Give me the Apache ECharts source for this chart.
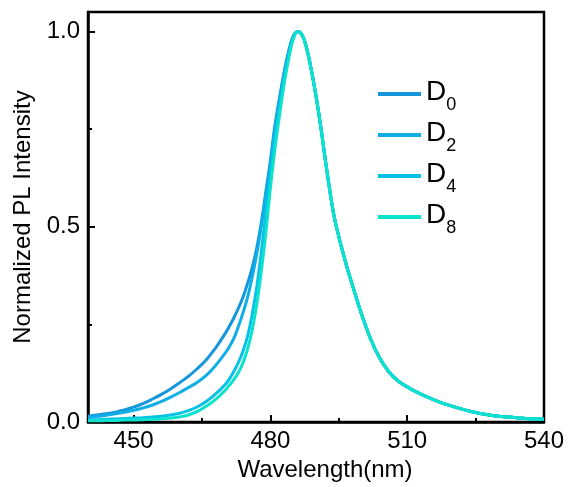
<!DOCTYPE html>
<html><head><meta charset="utf-8">
<script src="https://cdn.jsdelivr.net/npm/echarts@6/dist/echarts.min.js"></script>
<style>html,body{margin:0;padding:0;background:#fff}#c{width:569px;height:487px}</style>
</head><body><div id="c"></div>
<script>
const wavelengths = [440,442,444,446,448,450,452,454,456,458,460,462,464,466,468,470,
  471,472,473,474,475,476,477,478,479,480,481,482,483,484,485,486,
  487,488,489,490,491,492,493,494,495,496,497,498,499,500,
  502,504,506,508,510,512,514,516,518,520,522,524,526,528,530,532,534,536,538,540];
const D0 = [0.015,0.018,0.021,0.025,0.031,0.038,0.047,0.058,0.070,0.084,0.100,0.117,0.137,0.160,0.190,0.225,
  0.245,0.267,0.292,0.320,0.355,0.395,0.445,0.510,0.590,0.670,0.760,0.830,0.895,0.950,0.988,1.000,
  0.990,0.955,0.900,0.835,0.760,0.675,0.595,0.525,0.475,0.430,0.388,0.350,0.312,0.276,
  0.212,0.163,0.128,0.105,0.090,0.077,0.066,0.056,0.047,0.040,0.033,0.027,0.022,0.018,0.015,0.013,0.011,0.009,0.008,0.007];
const D2 = [0.012,0.014,0.017,0.021,0.025,0.030,0.036,0.043,0.052,0.063,0.075,0.088,0.102,0.120,0.145,0.175,
  0.193,0.215,0.245,0.280,0.320,0.370,0.430,0.500,0.580,0.660,0.750,0.825,0.890,0.945,0.985,1.000,
  0.990,0.955,0.900,0.835,0.760,0.675,0.595,0.525,0.475,0.430,0.388,0.350,0.312,0.276,
  0.212,0.163,0.128,0.105,0.090,0.077,0.066,0.056,0.047,0.040,0.033,0.027,0.022,0.018,0.015,0.013,0.011,0.009,0.008,0.007];
const D4 = [0.005,0.006,0.007,0.008,0.009,0.010,0.011,0.013,0.015,0.018,0.022,0.029,0.039,0.053,0.072,0.095,
  0.110,0.130,0.153,0.182,0.220,0.275,0.345,0.435,0.535,0.635,0.725,0.805,0.875,0.935,0.982,1.000,
  0.990,0.955,0.900,0.835,0.760,0.675,0.595,0.525,0.475,0.430,0.388,0.350,0.312,0.276,
  0.212,0.163,0.128,0.105,0.090,0.077,0.066,0.056,0.047,0.040,0.033,0.027,0.022,0.018,0.015,0.013,0.011,0.009,0.008,0.007];
const D8 = [0.003,0.003,0.004,0.004,0.005,0.005,0.006,0.007,0.008,0.010,0.013,0.018,0.027,0.041,0.058,0.080,
  0.094,0.109,0.127,0.152,0.187,0.235,0.300,0.385,0.485,0.600,0.700,0.785,0.865,0.930,0.980,1.000,
  0.990,0.955,0.900,0.835,0.760,0.675,0.595,0.525,0.475,0.430,0.388,0.350,0.312,0.276,
  0.212,0.163,0.128,0.105,0.090,0.077,0.066,0.056,0.047,0.040,0.033,0.027,0.022,0.018,0.015,0.013,0.011,0.009,0.008,0.007];
const seriesNames = ['D0','D2','D4','D8'];
const subscripts = ['0','2','4','8'];
const seriesValues = [D0, D2, D4, D8];
const colors = ['#1596dc','#10aee6','#06c2e6','#0ce2cc'];
const xMajorTicks = [450,480,510,540];
const xMinorTicks = [465,495,525];
const yMajorTicks = [0,0.5,1.0];
const yMinorTicks = [0.25,0.75];

const font = '"Liberation Sans", Arial, sans-serif';
const chart = echarts.init(document.getElementById('c'), null, {renderer:'canvas'});
const axisLineStyle = {color:'#000', width:2.5};
chart.setOption({
  animation:false,
  backgroundColor:'#fff',
  grid:{left:88, right:25, top:12, bottom:65, show:true, borderColor:'#000', borderWidth:2.5, containLabel:false},
  legend:{
    orient:'vertical', left:378, top:74, padding:0, itemWidth:43, itemHeight:4, itemGap:1,
    icon:'rect',
    data:seriesNames,
    formatter:function(n){ return '{b|D}{s|' + subscripts[seriesNames.indexOf(n)] + '}{h| }'; },
    textStyle:{
      fontFamily:font, color:'#000',
      rich:{
        b:{fontFamily:font, fontSize:28, color:'#000', lineHeight:32, verticalAlign:'top', padding:[4,0,0,0]},
        s:{fontFamily:font, fontSize:18, color:'#000', lineHeight:25, verticalAlign:'bottom'},
        h:{fontFamily:font, fontSize:1, lineHeight:40}
      }
    }
  },
  xAxis:[{
    type:'value', min:440, max:540,
    name:'Wavelength(nm)', nameLocation:'middle', nameGap:30,
    nameTextStyle:{fontFamily:font, fontSize:24, color:'#000', padding:[0,0,0,18]},
    axisLine:{show:true, lineStyle:axisLineStyle},
    axisTick:{show:true, inside:true, length:7, lineStyle:{color:'#000', width:2}, customValues:xMajorTicks},
    axisLabel:{fontFamily:font, fontSize:24, color:'#000', margin:7, customValues:xMajorTicks},
    splitLine:{show:false}
  },{
    type:'value', min:440, max:540, position:'bottom', gridIndex:0,
    axisLine:{show:false},
    axisTick:{show:true, inside:true, length:4, lineStyle:{color:'#000', width:2}, customValues:xMinorTicks},
    axisLabel:{show:false},
    splitLine:{show:false}
  }],
  yAxis:[{
    type:'value', min:0, max:1.05,
    name:'Normalized PL Intensity', nameLocation:'middle', nameGap:48,
    nameTextStyle:{fontFamily:font, fontSize:24, color:'#000'},
    axisLine:{show:true, lineStyle:axisLineStyle},
    axisTick:{show:true, inside:true, length:7, lineStyle:{color:'#000', width:2}, customValues:yMajorTicks},
    axisLabel:{fontFamily:font, fontSize:24, color:'#000', margin:8, customValues:yMajorTicks,
      formatter:function(v){ return v.toFixed(1); }},
    splitLine:{show:false}
  },{
    type:'value', min:0, max:1.05, position:'left', gridIndex:0,
    axisLine:{show:false},
    axisTick:{show:true, inside:true, length:4, lineStyle:{color:'#000', width:2}, customValues:yMinorTicks},
    axisLabel:{show:false},
    splitLine:{show:false}
  }],
  series: seriesNames.map(function(n, k){
    return {
      name:n, type:'line', xAxisIndex:0, yAxisIndex:0,
      symbol:'none', showSymbol:false, smooth:0.4,
      lineStyle:{width:3, color:colors[k]}, itemStyle:{color:colors[k]},
      data: wavelengths.map(function(w, i){ return [w, seriesValues[k][i]]; })
    };
  })
});
</script>
</body></html>
